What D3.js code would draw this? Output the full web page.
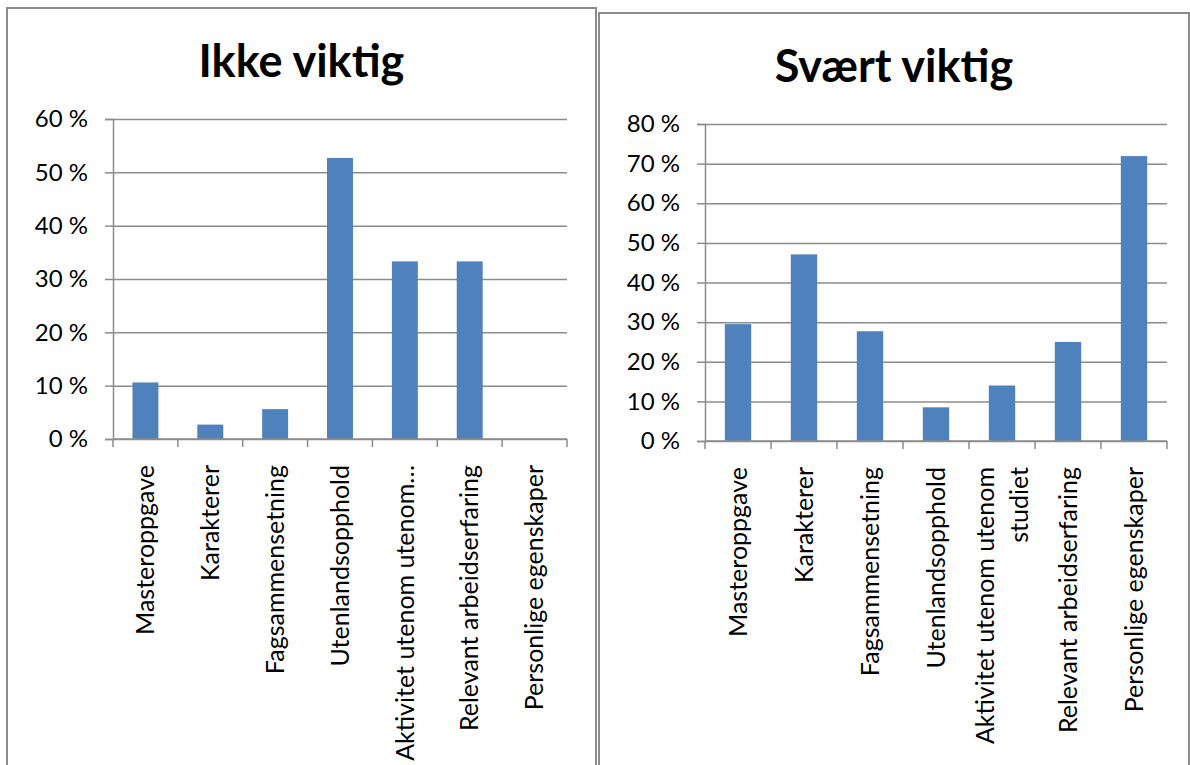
<!DOCTYPE html>
<html>
<head>
<meta charset="utf-8">
<script src="https://cdn.jsdelivr.net/npm/d3@7"></script>
<style>
	body { margin: 0; background: #fff; }
	svg { display: block; font-family: Lato, 'Open Sans', sans-serif; }
</style>
</head>
<body>
<svg id="chart" width="1190" height="765"></svg>
<script>
'use strict';

// categories shared by both charts
var categories = ['Masteroppgave', 'Karakterer', 'Fagsammensetning', 'Utenlandsopphold',
	'Aktivitet utenom utenom studiet', 'Relevant arbeidserfaring', 'Personlige egenskaper'];

// tick labels as they are shown under each chart (lines split by \n)
var labelsIkke = ['Masteroppgave', 'Karakterer', 'Fagsammensetning', 'Utenlandsopphold',
	'Aktivitet utenom utenom…', 'Relevant arbeidserfaring', 'Personlige egenskaper'];
var labelsSvaert = ['Masteroppgave', 'Karakterer', 'Fagsammensetning', 'Utenlandsopphold',
	'Aktivitet utenom utenom\nstudiet', 'Relevant arbeidserfaring', 'Personlige egenskaper'];

// share of answers, in percent
var valuesIkke = [10.6, 2.7, 5.6, 52.7, 33.3, 33.3, 0];
var valuesSvaert = [29.5, 47.1, 27.7, 8.5, 14.0, 25.0, 71.9];

// y axis ticks
var ticksIkke = [0, 10, 20, 30, 40, 50, 60];
var ticksSvaert = [0, 10, 20, 30, 40, 50, 60, 70, 80];

var titles = ['Ikke viktig', 'Svært viktig'];

class BarChart{
	constructor(svg, opts){
		var self = this;

		this.svg = svg;
		this.opts = opts;

		// panel frame (bottom edge runs off the picture)
		this.svg.append('rect')
			.attr('x', opts.frame.x)
			.attr('y', opts.frame.y)
			.attr('width', opts.frame.w)
			.attr('height', 900)
			.attr('fill', '#fff')
			.attr('stroke', '#8c8c8c')
			.attr('stroke-width', 2);

		this.svg.append('text')
			.attr('x', opts.frame.x + opts.frame.w / 2)
			.attr('y', opts.frame.y + 69)
			.attr('text-anchor', 'middle')
			.attr('font-size', 45)
			.attr('font-weight', 'bold')
			.attr('fill', '#000')
			.text(opts.title);

		this.x = d3.scaleBand()
			.domain(categories)
			.range([opts.plot.left, opts.plot.right])
			.paddingInner(0.6)
			.paddingOuter(0.3);

		this.y = d3.scaleLinear()
			.domain([0, d3.max(opts.ticks)])
			.range([opts.plot.bottom, opts.plot.top]);

		this.g = this.svg.append('g');

		// grid lines + y axis
		var yAxis = this.g.append('g')
			.attr('transform', 'translate(' + opts.plot.left + ',0)')
			.call(d3.axisLeft(this.y)
				.tickValues(opts.ticks)
				.tickSize(8)
				.tickPadding(17)
				.tickFormat(function(d){ return d + ' %'; }));
		yAxis.select('.domain').attr('stroke', '#8c8c8c').attr('stroke-width', 1.5);
		yAxis.selectAll('.tick line').attr('stroke', '#8c8c8c').attr('stroke-width', 1.5);
		yAxis.selectAll('.tick text')
			.attr('font-size', 24)
			.attr('font-family', 'Lato, sans-serif')
			.attr('fill', '#000');
		yAxis.selectAll('.tick').append('line')
			.attr('x1', 0)
			.attr('x2', opts.plot.right - opts.plot.left)
			.attr('stroke', '#8c8c8c')
			.attr('stroke-width', 1.5);

		// bars
		this.g.append('g').selectAll('rect')
			.data(opts.values)
			.enter().append('rect')
				.attr('x', function(d, i){ return self.x(categories[i]); })
				.attr('y', function(d){ return self.y(d); })
				.attr('width', this.x.bandwidth())
				.attr('height', function(d){ return self.y(0) - self.y(d); })
				.attr('fill', '#4f81bd');

		// x axis with ticks between the categories
		var step = this.x.step();
		var edges = d3.range(categories.length + 1).map(function(i){ return opts.plot.left + i * step; });
		var xg = this.g.append('g');
		xg.append('line')
			.attr('x1', opts.plot.left).attr('x2', opts.plot.right)
			.attr('y1', this.y(0)).attr('y2', this.y(0))
			.attr('stroke', '#8c8c8c').attr('stroke-width', 1.5);
		xg.selectAll('line.tick')
			.data(edges)
			.enter().append('line')
				.attr('class', 'tick')
				.attr('x1', function(d){ return d; }).attr('x2', function(d){ return d; })
				.attr('y1', this.y(0)).attr('y2', this.y(0) + 8)
				.attr('stroke', '#8c8c8c').attr('stroke-width', 1.5);

		// rotated category labels
		var lineH = 34;
		xg.selectAll('text')
			.data(opts.labels)
			.enter().append('text')
				.attr('transform', function(d, i){
					var cx = self.x(categories[i]) + self.x.bandwidth() / 2;
					return 'translate(' + cx + ',' + (self.y(0) + 26) + ') rotate(-90)';
				})
				.attr('text-anchor', 'end')
				.attr('font-size', 25)
				.attr('fill', '#000')
				.each(function(d){
					var lines = d.split('\n');
					var t = d3.select(this);
					lines.forEach(function(l, k){
						t.append('tspan')
							.attr('x', 0)
							.attr('y', (k - (lines.length - 1) / 2) * lineH)
							.attr('dy', '0.35em')
							.text(l);
					});
				});
	}
}

var svg = d3.select('#chart');
svg.append('rect').attr('width', 1190).attr('height', 765).attr('fill', '#fff');

new BarChart(svg, {
	title: titles[0],
	frame: {x: 7, y: 8, w: 589},
	plot: {left: 113, right: 567, top: 119, bottom: 439},
	ticks: ticksIkke,
	values: valuesIkke,
	labels: labelsIkke
});

new BarChart(svg, {
	title: titles[1],
	frame: {x: 599, y: 13, w: 590},
	plot: {left: 705, right: 1167, top: 124, bottom: 441},
	ticks: ticksSvaert,
	values: valuesSvaert,
	labels: labelsSvaert
});
</script>
</body>
</html>
